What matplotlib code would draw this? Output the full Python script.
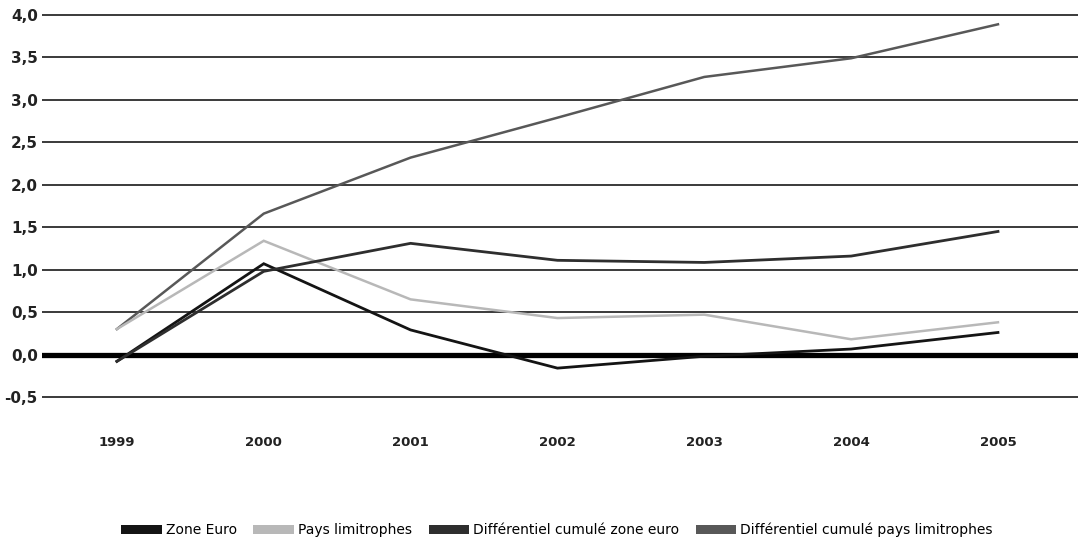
import matplotlib
matplotlib.use('Agg')
import matplotlib.pyplot as plt
from matplotlib.patches import Patch

# Données
annees = ['1999', '2000', '2001', '2002', '2003', '2004', '2005']
zone_euro = [-0.08, 1.07, 0.29, -0.16, -0.02, 0.065, 0.26]
pays_limitrophes = [0.30, 1.34, 0.65, 0.43, 0.47, 0.18, 0.38]
cumul_zone_euro = [-0.08, 0.98, 1.31, 1.11, 1.085, 1.16, 1.45]
cumul_pays_limitrophes = [0.30, 1.66, 2.32, 2.79, 3.27, 3.49, 3.89]

etiquettes = ['Zone Euro', 'Pays limitrophes',
              'Différentiel cumulé zone euro', 'Différentiel cumulé pays limitrophes']
couleurs = ['#141414', '#b8b8b8', '#2e2e2e', '#585858']
yticks = [-0.5, 0.0, 0.5, 1.0, 1.5, 2.0, 2.5, 3.0, 3.5, 4.0]

police = ['DejaVu Sans Condensed', 'DejaVu Sans']

fig = plt.figure(figsize=(10.78, 5.42), dpi=100)
ax = fig.add_axes([42 / 1078, 0.2644, 1 - 42 / 1078, 0.7111])

x = list(range(len(annees)))

# grille horizontale
for v in yticks:
    if v == 0:
        ax.axhline(v, color='black', lw=3.8, zorder=2)
    else:
        ax.axhline(v, color='#3a3a3a', lw=1.4, zorder=1)

series = [zone_euro, pays_limitrophes, cumul_zone_euro, cumul_pays_limitrophes]
largeurs = [2.0, 1.8, 2.0, 1.8]
ordre = [3, 4, 5, 3]
for s, c, lw, z in zip(series, couleurs, largeurs, ordre):
    ax.plot(x, s, color=c, lw=lw, zorder=z, solid_joinstyle='miter')

ax.set_xlim(-0.51, 6.545)
ax.set_ylim(-0.52, 4.02)
ax.set_yticks(yticks)
ax.set_yticklabels([('%.1f' % v).replace('.', ',') for v in yticks],
                   fontweight='bold', fontsize=11, family=police, color='#222222')
ax.set_xticks(x)
ax.set_xticklabels(annees, fontweight='bold', fontsize=9.5, family=police, color='#222222')
ax.tick_params(axis='y', length=0, pad=3)
ax.tick_params(axis='x', length=0, pad=27)
for sp in ax.spines.values():
    sp.set_visible(False)

poignees = [Patch(facecolor=c, edgecolor='none') for c in couleurs]
fig.legend(poignees, etiquettes, loc='center', bbox_to_anchor=(557 / 1078, 1 - 530 / 542),
           ncol=4, frameon=False, prop={'family': police, 'size': 10},
           handlelength=2.9, handleheight=0.65, handletextpad=0.3, columnspacing=1.2)

plt.savefig('out.png', dpi=100)
